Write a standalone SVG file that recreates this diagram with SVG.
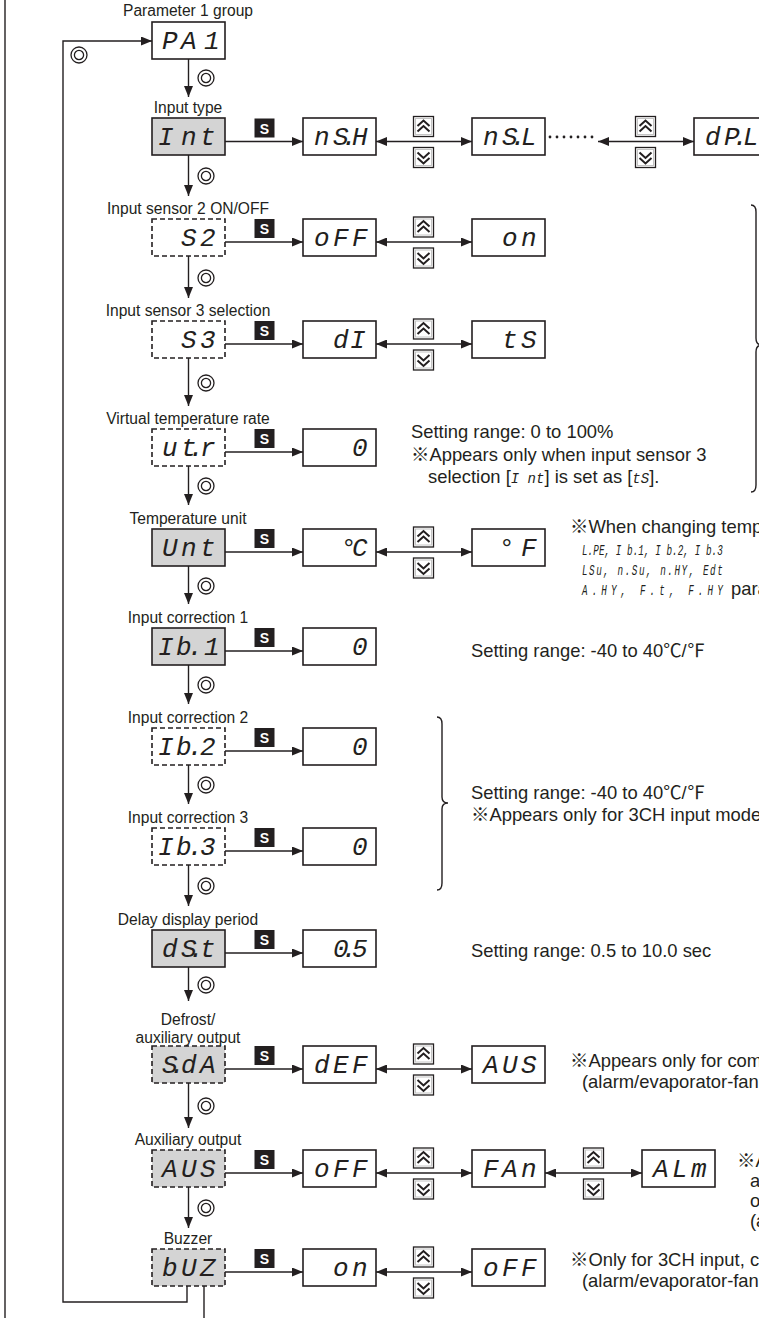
<svg xmlns="http://www.w3.org/2000/svg" width="759" height="1318" viewBox="0 0 759 1318">
<style>
.bx{fill:#fff;stroke:#231f20;stroke-width:1.6}
.gr{fill:#d4d4d4}
.ds{stroke-dasharray:5 3}
.lbl{font-family:'Liberation Sans',Arial,sans-serif;font-size:15.6px;fill:#231f20;text-anchor:middle}
.nt{font-family:'Liberation Sans',Arial,'Noto Sans CJK JP',sans-serif;font-size:18.4px;fill:#231f20}
.sg{font-family:'Liberation Mono','DejaVu Sans Mono',monospace;font-style:italic;font-size:26px;fill:#231f20}
.ss{font-family:'Liberation Mono','DejaVu Sans Mono',monospace;font-style:italic;font-size:14px;fill:#231f20}
.sl{font-family:'Liberation Mono','DejaVu Sans Mono',monospace;font-style:italic;font-size:15px;fill:#231f20}
.ln{stroke:#231f20;stroke-width:1.4;fill:none}
.ar{marker-end:url(#ah)}
.da{marker-start:url(#ah);marker-end:url(#ah)}
</style>
<defs>
<marker id="ah" viewBox="0 0 11 9" refX="11" refY="4.5" markerWidth="11" markerHeight="9" markerUnits="userSpaceOnUse" orient="auto-start-reverse"><path d="M0,0 L11,4.5 L0,9 z" fill="#231f20"/></marker>
<g id="bu"><rect x="0.5" y="0.5" width="20" height="20" fill="#fff" stroke="#231f20" stroke-width="1.3"/><rect x="2.5" y="2.5" width="16" height="16" fill="none" stroke="#c4c4c4" stroke-width="1"/><path d="M4.5,10 L10.5,4.5 L16.5,10 M4.5,15.5 L10.5,10 L16.5,15.5" fill="none" stroke="#231f20" stroke-width="2"/></g>
<g id="bd"><rect x="0.5" y="0.5" width="20" height="20" fill="#fff" stroke="#231f20" stroke-width="1.3"/><rect x="2.5" y="2.5" width="16" height="16" fill="none" stroke="#c4c4c4" stroke-width="1"/><path d="M4.5,5.5 L10.5,11 L16.5,5.5 M4.5,11 L10.5,16.5 L16.5,11" fill="none" stroke="#231f20" stroke-width="2"/></g>
<g id="sb"><rect x="0" y="0" width="20" height="19" fill="#231f20"/><text x="10" y="15" font-family="'Liberation Sans',Arial,sans-serif" font-weight="bold" font-size="14" fill="#fff" text-anchor="middle">S</text></g>
<g id="dc"><circle r="8" fill="none" stroke="#231f20" stroke-width="1.3"/><circle r="4.6" fill="none" stroke="#231f20" stroke-width="1.3"/></g>
</defs>
<rect width="759" height="1318" fill="#fff"/>

<g id="connectors">
<line class="ln" x1="5" y1="0" x2="5" y2="1318"/>
<path class="ln" d="M187,1286 V1302 H63 V41 H152" marker-end="url(#ah)"/>
<line class="ln" x1="204" y1="1286" x2="204" y2="1318"/>
<line class="ln ar" x1="188.5" y1="59" x2="188.5" y2="97"/>
<line class="ln ar" x1="188.5" y1="155" x2="188.5" y2="196"/>
<line class="ln ar" x1="188.5" y1="256" x2="188.5" y2="298"/>
<line class="ln ar" x1="188.5" y1="358" x2="188.5" y2="406"/>
<line class="ln ar" x1="188.5" y1="466" x2="188.5" y2="505"/>
<line class="ln ar" x1="188.5" y1="566" x2="188.5" y2="604"/>
<line class="ln ar" x1="188.5" y1="665" x2="188.5" y2="704"/>
<line class="ln ar" x1="188.5" y1="765" x2="188.5" y2="804"/>
<line class="ln ar" x1="188.5" y1="865" x2="188.5" y2="906"/>
<line class="ln ar" x1="188.5" y1="967" x2="188.5" y2="1001"/>
<line class="ln ar" x1="188.5" y1="1083" x2="188.5" y2="1128"/>
<line class="ln ar" x1="188.5" y1="1187" x2="188.5" y2="1228"/>
<line class="ln ar" x1="225" y1="141.5" x2="303" y2="141.5"/>
<line class="ln ar" x1="225" y1="242" x2="303" y2="242"/>
<line class="ln ar" x1="225" y1="344" x2="303" y2="344"/>
<line class="ln ar" x1="225" y1="452" x2="303" y2="452"/>
<line class="ln ar" x1="225" y1="552" x2="303" y2="552"/>
<line class="ln ar" x1="225" y1="651" x2="303" y2="651"/>
<line class="ln ar" x1="225" y1="751" x2="303" y2="751"/>
<line class="ln ar" x1="225" y1="851" x2="303" y2="851"/>
<line class="ln ar" x1="225" y1="953" x2="303" y2="953"/>
<line class="ln ar" x1="225" y1="1069" x2="303" y2="1069"/>
<line class="ln ar" x1="225" y1="1173" x2="303" y2="1173"/>
<line class="ln ar" x1="225" y1="1272" x2="303" y2="1272"/>
<line class="ln da" x1="376" y1="141.5" x2="472" y2="141.5"/>
<line class="ln da" x1="598" y1="141.5" x2="694" y2="141.5"/>
<line class="ln da" x1="376" y1="242" x2="472" y2="242"/>
<line class="ln da" x1="376" y1="344" x2="472" y2="344"/>
<line class="ln da" x1="376" y1="552" x2="472" y2="552"/>
<line class="ln da" x1="376" y1="1069" x2="472" y2="1069"/>
<line class="ln da" x1="376" y1="1173" x2="472" y2="1173"/>
<line class="ln da" x1="545" y1="1173" x2="642" y2="1173"/>
<line class="ln da" x1="376" y1="1272" x2="472" y2="1272"/>
<g fill="#231f20"><circle cx="550" cy="137" r="1.4"/><circle cx="557" cy="137" r="1.4"/><circle cx="564" cy="137" r="1.4"/><circle cx="571" cy="137" r="1.4"/><circle cx="578" cy="137" r="1.4"/><circle cx="585" cy="137" r="1.4"/><circle cx="592" cy="137" r="1.4"/></g>
</g>

<g id="connector-labels">
<use href="#dc" x="79" y="55"/>
<use href="#dc" x="206" y="78"/>
<use href="#dc" x="206" y="176"/>
<use href="#dc" x="206" y="278"/>
<use href="#dc" x="206" y="383"/>
<use href="#dc" x="206" y="486"/>
<use href="#dc" x="206" y="586"/>
<use href="#dc" x="206" y="685"/>
<use href="#dc" x="206" y="785"/>
<use href="#dc" x="206" y="886"/>
<use href="#dc" x="206" y="985"/>
<use href="#dc" x="206" y="1106"/>
<use href="#dc" x="206" y="1208"/>
<use href="#sb" x="254.5" y="118.5"/>
<use href="#sb" x="254.5" y="219"/>
<use href="#sb" x="254.5" y="321"/>
<use href="#sb" x="254.5" y="429"/>
<use href="#sb" x="254.5" y="529"/>
<use href="#sb" x="254.5" y="628"/>
<use href="#sb" x="254.5" y="728"/>
<use href="#sb" x="254.5" y="828"/>
<use href="#sb" x="254.5" y="930"/>
<use href="#sb" x="254.5" y="1046"/>
<use href="#sb" x="254.5" y="1150"/>
<use href="#sb" x="254.5" y="1249"/>
<use href="#bu" x="413" y="116"/><use href="#bd" x="413" y="147"/>
<use href="#bu" x="635" y="116"/><use href="#bd" x="635" y="147"/>
<use href="#bu" x="413" y="216.5"/><use href="#bd" x="413" y="247.5"/>
<use href="#bu" x="413" y="318.5"/><use href="#bd" x="413" y="349.5"/>
<use href="#bu" x="413" y="526.5"/><use href="#bd" x="413" y="557.5"/>
<use href="#bu" x="413" y="1043.5"/><use href="#bd" x="413" y="1074.5"/>
<use href="#bu" x="413" y="1147.5"/><use href="#bd" x="413" y="1178.5"/>
<use href="#bu" x="583" y="1147.5"/><use href="#bd" x="583" y="1178.5"/>
<use href="#bu" x="413" y="1246.5"/><use href="#bd" x="413" y="1277.5"/>
</g>

<g id="node-PA1"><text class="lbl" x="188" y="16">Parameter 1 group</text><rect class="bx" x="152" y="22" width="73" height="37"/><text class="sg" x="162 181 204" y="48.5">PA1</text></g>
<g id="node-Int"><text class="lbl" x="188" y="113">Input type</text><rect class="bx gr" x="152" y="118" width="73" height="37"/><text class="sg" x="158 181 200" y="144.5">Int</text></g>
<g id="node-S2"><text class="lbl" x="188" y="214">Input sensor 2 ON/OFF</text><rect class="bx ds" x="152" y="219" width="73" height="37"/><text class="sg" x="181 200" y="245.5">S2</text></g>
<g id="node-S3"><text class="lbl" x="188" y="316">Input sensor 3 selection</text><rect class="bx ds" x="152" y="321" width="73" height="37"/><text class="sg" x="181 200" y="347.5">S3</text></g>
<g id="node-utr"><text class="lbl" x="188" y="424">Virtual temperature rate</text><rect class="bx ds" x="152" y="429" width="73" height="37"/><text class="sg" x="162 181 188.5 200" y="455.5">ut.r</text></g>
<g id="node-Unt"><text class="lbl" x="188" y="524">Temperature unit</text><rect class="bx gr" x="152" y="529" width="73" height="37"/><text class="sg" x="162 181 200" y="555.5">Unt</text></g>
<g id="node-Ib1"><text class="lbl" x="188" y="623">Input correction 1</text><rect class="bx gr" x="152" y="628" width="73" height="37"/><text class="sg" x="158 176 187.5 204" y="654.5">Ib.1</text></g>
<g id="node-Ib2"><text class="lbl" x="188" y="723">Input correction 2</text><rect class="bx ds" x="152" y="728" width="73" height="37"/><text class="sg" x="158 176 187.5 200" y="754.5">Ib.2</text></g>
<g id="node-Ib3"><text class="lbl" x="188" y="823">Input correction 3</text><rect class="bx ds" x="152" y="828" width="73" height="37"/><text class="sg" x="158 176 187.5 200" y="854.5">Ib.3</text></g>
<g id="node-dSt"><text class="lbl" x="188" y="925">Delay display period</text><rect class="bx gr" x="152" y="930" width="73" height="37"/><text class="sg" x="162 181 188.5 200" y="956.5">dS.t</text></g>
<g id="node-SdA"><text class="lbl" x="188" y="1025">Defrost/</text><text class="lbl" x="188" y="1043">auxiliary output</text><rect class="bx gr ds" x="152" y="1046" width="73" height="37"/><text class="sg" x="162 169.5 181 200" y="1072.5">S.dA</text></g>
<g id="node-AUS"><text class="lbl" x="188" y="1145">Auxiliary output</text><rect class="bx gr ds" x="152" y="1150" width="73" height="37"/><text class="sg" x="162 181 200" y="1176.5">AUS</text></g>
<g id="node-bUZ"><text class="lbl" x="188" y="1244">Buzzer</text><rect class="bx gr ds" x="152" y="1249" width="73" height="37"/><text class="sg" x="162 181 200" y="1275.5">bUZ</text></g>

<g id="val-nSH"><rect class="bx" x="303" y="118" width="73" height="37"/><text class="sg" x="314 333 341.5 352" y="144.5">nS.H</text></g>
<g id="val-nSL"><rect class="bx" x="472" y="118" width="73" height="37"/><text class="sg" x="483 502 510.5 521" y="144.5">nS.L</text></g>
<g id="val-dPL"><rect class="bx" x="694" y="118" width="73" height="37"/><text class="sg" x="705 724 732.5 743" y="144.5">dP.L</text></g>
<g id="val-S2-oFF"><rect class="bx" x="303" y="219" width="73" height="37"/><text class="sg" x="314 333 352" y="245.5">oFF</text></g>
<g id="val-S2-on"><rect class="bx" x="472" y="219" width="73" height="37"/><text class="sg" x="502 521" y="245.5">on</text></g>
<g id="val-S3-dI"><rect class="bx" x="303" y="321" width="73" height="37"/><text class="sg" x="333 350" y="347.5">dI</text></g>
<g id="val-S3-tS"><rect class="bx" x="472" y="321" width="73" height="37"/><text class="sg" x="502 521" y="347.5">tS</text></g>
<g id="val-utr"><rect class="bx" x="303" y="429" width="73" height="37"/><text class="sg" x="352" y="455.5">0</text></g>
<g id="val-C"><rect class="bx" x="303" y="529" width="73" height="37"/><text class="sg" x="341 352" y="555.5">°C</text></g>
<g id="val-F"><rect class="bx" x="472" y="529" width="73" height="37"/><text class="sg" x="499 521" y="555.5">°F</text></g>
<g id="val-Ib1"><rect class="bx" x="303" y="628" width="73" height="37"/><text class="sg" x="352" y="654.5">0</text></g>
<g id="val-Ib2"><rect class="bx" x="303" y="728" width="73" height="37"/><text class="sg" x="352" y="754.5">0</text></g>
<g id="val-Ib3"><rect class="bx" x="303" y="828" width="73" height="37"/><text class="sg" x="352" y="854.5">0</text></g>
<g id="val-dSt"><rect class="bx" x="303" y="930" width="73" height="37"/><text class="sg" x="333 341.5 352" y="956.5">0.5</text></g>
<g id="val-dEF"><rect class="bx" x="303" y="1046" width="73" height="37"/><text class="sg" x="314 333 352" y="1072.5">dEF</text></g>
<g id="val-SdA-AUS"><rect class="bx" x="472" y="1046" width="73" height="37"/><text class="sg" x="483 502 521" y="1072.5">AUS</text></g>
<g id="val-AUS-oFF"><rect class="bx" x="303" y="1150" width="73" height="37"/><text class="sg" x="314 333 352" y="1176.5">oFF</text></g>
<g id="val-FAn"><rect class="bx" x="472" y="1150" width="73" height="37"/><text class="sg" x="483 502 521" y="1176.5">FAn</text></g>
<g id="val-ALm"><rect class="bx" x="642" y="1150" width="73" height="37"/><text class="sg" x="653 672 691" y="1176.5">ALm</text></g>
<g id="val-bUZ-on"><rect class="bx" x="303" y="1249" width="73" height="37"/><text class="sg" x="333 352" y="1275.5">on</text></g>
<g id="val-bUZ-oFF"><rect class="bx" x="472" y="1249" width="73" height="37"/><text class="sg" x="483 502 521" y="1275.5">oFF</text></g>

<g id="notes">
<path class="ln" d="M751,205 Q756,205 756,212 L756,338 Q756,345 762,345 Q756,345 756,352 L756,485 Q756,492 751,492"/>
<path class="ln" d="M437,717 Q442,717 442,724 L442,797 Q442,803 448,803 Q442,803 442,809 L442,883 Q442,890 437,890"/>
<text class="nt" x="411" y="438">Setting range: 0 to 100%</text>
<text class="nt" x="411" y="461">※Appears only when input sensor 3</text>
<text class="nt" x="428" y="483">selection [<tspan class="ss">I nt</tspan>] is set as [<tspan class="ss">tS</tspan>].</text>
<text class="nt" x="570" y="533">※When changing temp</text>
<g transform="translate(582,0) scale(0.62,1)">
<text class="sl" x="0" y="555" textLength="227" lengthAdjust="spacing">L.PE, I b.1, I b.2, I b.3</text>
<text class="sl" x="0" y="575" textLength="227" lengthAdjust="spacing">LSu, n.Su, n.HY, Edt</text>
<text class="sl" x="0" y="595" textLength="227" lengthAdjust="spacing">A.HY, F.t, F.HY</text>
</g>
<text class="nt" x="731" y="595">param</text>
<text class="nt" x="471" y="657">Setting range: -40 to 40℃/℉</text>
<text class="nt" x="471" y="799">Setting range: -40 to 40℃/℉</text>
<text class="nt" x="471" y="821">※Appears only for 3CH input mode</text>
<text class="nt" x="471" y="957">Setting range: 0.5 to 10.0 sec</text>
<text class="nt" x="570" y="1067">※Appears only for com</text>
<text class="nt" x="582" y="1088">(alarm/evaporator-fan</text>
<text class="nt" x="737" y="1167">※A</text>
<text class="nt" x="750" y="1187">a</text>
<text class="nt" x="750" y="1207">o</text>
<text class="nt" x="750" y="1227">(a</text>
<text class="nt" x="570" y="1266">※Only for 3CH input, c</text>
<text class="nt" x="582" y="1287">(alarm/evaporator-fan</text>
</g>
</svg>
